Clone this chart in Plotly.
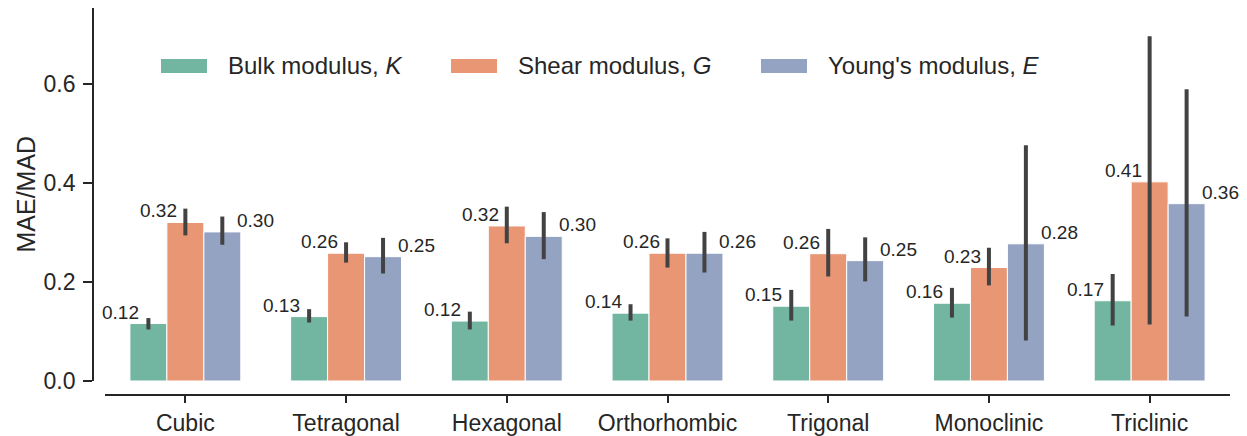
import plotly.graph_objects as go

categories = ["Cubic", "Tetragonal", "Hexagonal", "Orthorhombic", "Trigonal", "Monoclinic", "Triclinic"]
series_names = ["Bulk modulus, <i>K</i>", "Shear modulus, <i>G</i>", "Young's modulus, <i>E</i>"]
colors = ["#72b6a1", "#e99675", "#95a3c3"]

K_mean = [0.116, 0.130, 0.121, 0.137, 0.151, 0.157, 0.162]
K_lo = [0.104, 0.118, 0.104, 0.122, 0.122, 0.128, 0.112]
K_hi = [0.127, 0.145, 0.140, 0.155, 0.184, 0.188, 0.216]
K_lab = ["0.12", "0.13", "0.12", "0.14", "0.15", "0.16", "0.17"]

G_mean = [0.320, 0.258, 0.313, 0.258, 0.257, 0.229, 0.402]
G_lo = [0.294, 0.239, 0.278, 0.229, 0.211, 0.193, 0.114]
G_hi = [0.348, 0.280, 0.352, 0.288, 0.307, 0.269, 0.696]
G_lab = ["0.32", "0.26", "0.32", "0.26", "0.26", "0.23", "0.41"]

E_mean = [0.301, 0.251, 0.292, 0.258, 0.243, 0.277, 0.358]
E_lo = [0.275, 0.217, 0.246, 0.219, 0.201, 0.082, 0.130]
E_hi = [0.332, 0.289, 0.341, 0.301, 0.290, 0.476, 0.589]
E_lab = ["0.30", "0.25", "0.30", "0.26", "0.25", "0.28", "0.36"]

y_ticks = [0.0, 0.2, 0.4, 0.6]
y_ticktext = ["0.0", "0.2", "0.4", "0.6"]

means = [K_mean, G_mean, E_mean]
los = [K_lo, G_lo, E_lo]
his = [K_hi, G_hi, E_hi]
labs = [K_lab, G_lab, E_lab]

W, H = 1247, 436
ML, MR, MT, MB = 93, 17, 8, 41
PW, PH = W - ML - MR, H - MT - MB
BARGAP = 0.31
FONT = "Liberation Sans, Arial, Helvetica, sans-serif"
DARK = "#262626"


def px(x):
    return (x - ML) / PW


def py(y):
    return (H - MB - y) / PH


xs = list(range(len(categories)))
fig = go.Figure()
for k in range(3):
    m = means[k]
    fig.add_trace(go.Bar(
        x=xs, y=m, name=series_names[k],
        marker=dict(color=colors[k], line=dict(color="white", width=1)),
        error_y=dict(type="data", symmetric=False,
                     array=[h - v for h, v in zip(his[k], m)],
                     arrayminus=[v - l for l, v in zip(los[k], m)],
                     color="#424242", thickness=4, width=0),
    ))

bw = (1 - BARGAP) / 3
annotations = []
for k in range(3):
    off = (k - 1) * bw
    for i, (v, t) in enumerate(zip(means[k], labs[k])):
        if k < 2:
            annotations.append(dict(x=i + off, y=v, xref="x", yref="y", text=t, showarrow=False,
                                    xanchor="right", yanchor="bottom", xshift=-7 if k == 0 else -6,
                                    yshift=-1, font=dict(size=19, color=DARK, family=FONT)))
        else:
            annotations.append(dict(x=i + off, y=v, xref="x", yref="y", text=t, showarrow=False,
                                    xanchor="left", yanchor="bottom", xshift=13,
                                    yshift=-1, font=dict(size=19, color=DARK, family=FONT)))

# legend (drawn manually)
shapes = []
sw_left = [161, 451, 761]
txt_left = [226, 516, 826]
for k in range(3):
    shapes.append(dict(type="rect", xref="paper", yref="paper",
                       x0=px(sw_left[k]), x1=px(sw_left[k] + 46), y0=py(73), y1=py(59),
                       fillcolor=colors[k], line=dict(width=0)))
    annotations.append(dict(x=px(txt_left[k]), y=py(65), xref="paper", yref="paper",
                            text=series_names[k], showarrow=False, xanchor="left", yanchor="middle",
                            font=dict(size=24, color=DARK, family=FONT)))

# y-axis title
annotations.append(dict(x=px(25), y=(py(8) + py(381)) / 2, xref="paper", yref="paper",
                        text="MAE/MAD", textangle=-90, showarrow=False,
                        xanchor="center", yanchor="middle",
                        font=dict(size=25, color=DARK, family=FONT)))

fig.update_layout(
    width=W, height=H,
    margin=dict(l=ML, r=MR, t=MT, b=MB, autoexpand=False),
    plot_bgcolor="white", paper_bgcolor="white",
    barmode="group", bargap=BARGAP, bargroupgap=0,
    showlegend=False,
    font=dict(family=FONT, color=DARK),
    annotations=annotations, shapes=shapes,
)
fig.update_xaxes(
    domain=[12 / PW, 1], range=[-0.5, 6.5], automargin=False,
    tickmode="array", tickvals=xs, ticktext=categories,
    showline=True, linecolor=DARK, linewidth=1.8,
    ticks="outside", ticklen=7, tickwidth=1.5, tickcolor=DARK,
    anchor="free", position=0, showgrid=False, zeroline=False,
    tickfont=dict(size=23, color=DARK, family=FONT),
)
fig.update_yaxes(
    domain=[14 / PH, 1], range=[0, 0.753], automargin=False,
    tickmode="array", tickvals=y_ticks, ticktext=y_ticktext,
    showline=True, linecolor=DARK, linewidth=1.8,
    ticks="outside", ticklen=9, tickwidth=1.5, tickcolor=DARK,
    anchor="free", position=0, showgrid=False, zeroline=False,
    ticklabelstandoff=3,
    tickfont=dict(size=23, color=DARK, family=FONT),
)

fig.write_html("out.html")
